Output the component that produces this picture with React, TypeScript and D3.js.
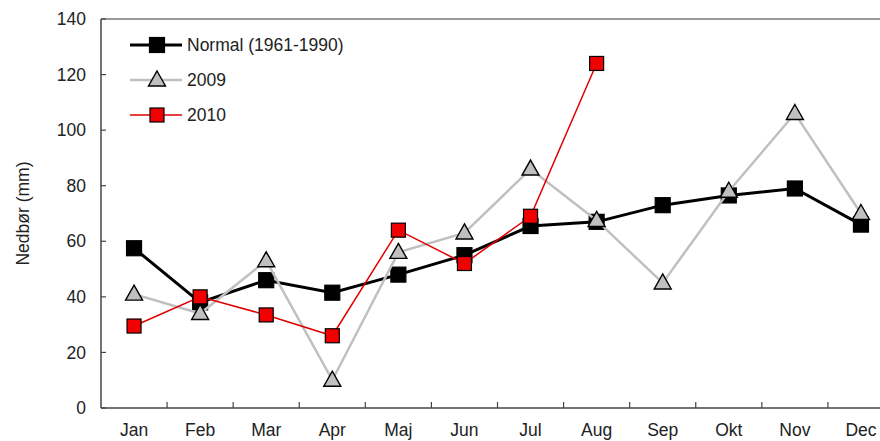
import React from "react";
import * as d3 from "d3";

const months = ["Jan", "Feb", "Mar", "Apr", "Maj", "Jun", "Jul", "Aug", "Sep", "Okt", "Nov", "Dec"];
const normal = [57.5, 38, 46, 41.5, 48, 55, 65.5, 67, 73, 76.5, 79, 66];
const y2009 = [41, 34, 53, 10, 56, 63, 86, 67.5, 45, 78, 106, 70];
const y2010 = [29.5, 40, 33.5, 26, 64, 52, 69, 124];
const yTicks = [0, 20, 40, 60, 80, 100, 120, 140];
const seriesNames = ["Normal (1961-1990)", "2009", "2010"];

const W = 880;
const H = 441;
const left = 101;
const top = 19;
const bottom = 408;
const right = 894;

export default function App() {
  const x = d3.scaleBand<string>().domain(months).range([left, right]);
  const y = d3.scaleLinear().domain([0, 140]).range([bottom, top]);
  const cx = (m: string) => (x(m) as number) + x.bandwidth() / 2;

  const line = d3
    .line<number>()
    .x((_, i) => cx(months[i]))
    .y((d) => y(d));

  const font = "'Liberation Sans', Arial, sans-serif";
  const fs = 17.5;
  const axisColor = "#444";

  const square = (px: number, py: number, s: number, fill: string, key: string) => (
    <rect key={key} x={px - s / 2} y={py - s / 2} width={s} height={s} fill={fill} stroke="#000" strokeWidth={1.2} />
  );
  const tri = (px: number, py: number, key: string) => {
    const w = 17;
    const h = 15;
    const p = `M${px},${py - h * 0.6} L${px + w / 2},${py + h * 0.4} L${px - w / 2},${py + h * 0.4} Z`;
    return <path key={key} d={p} fill="#c0c0c0" stroke="#000" strokeWidth={1.4} />;
  };

  return (
    <svg width={W} height={H} style={{ position: "absolute", left: 0, top: 0, background: "#fff" }}>
      {/* plot frame */}
      <line x1={left} x2={W} y1={top} y2={top} stroke="#777" strokeWidth={1.5} />
      <line x1={left} x2={left} y1={top} y2={bottom} stroke={axisColor} strokeWidth={1.5} />
      <line x1={left} x2={W} y1={bottom} y2={bottom} stroke={axisColor} strokeWidth={1.5} />
      {/* y ticks */}
      {yTicks.map((t) => (
        <g key={"yt" + t}>
          <line x1={left} x2={left + 5} y1={y(t)} y2={y(t)} stroke={axisColor} strokeWidth={1.2} />
          <text x={86} y={y(t)} dy="0.35em" textAnchor="end" fontFamily={font} fontSize={fs} fill="#222">
            {t}
          </text>
        </g>
      ))}
      {/* x ticks */}
      {months.map((m, i) =>
        i > 0 ? (
          <line key={"xt" + m} x1={x(m) as number} x2={x(m) as number} y1={bottom} y2={bottom - 6} stroke={axisColor} strokeWidth={1.2} />
        ) : null
      )}
      {months.map((m) => (
        <text key={"xl" + m} x={cx(m)} y={436} textAnchor="middle" fontFamily={font} fontSize={fs} fill="#222">
          {m}
        </text>
      ))}
      <text
        transform={`translate(29,${(top + bottom) / 2}) rotate(-90)`}
        textAnchor="middle"
        fontFamily={font}
        fontSize={fs}
        fill="#222"
      >
        Nedbør (mm)
      </text>

      {/* Normal */}
      <path d={line(normal) as string} fill="none" stroke="#000" strokeWidth={3} />
      {normal.map((v, i) => square(cx(months[i]), y(v), 15, "#000", "n" + i))}
      {/* 2009 */}
      <path d={line(y2009) as string} fill="none" stroke="#c0c0c0" strokeWidth={2.5} />
      {y2009.map((v, i) => tri(cx(months[i]), y(v), "a" + i))}
      {/* 2010 */}
      <path d={line(y2010) as string} fill="none" stroke="#e00000" strokeWidth={1.5} />
      {y2010.map((v, i) => square(cx(months[i]), y(v), 14, "#f00000", "b" + i))}

      {/* legend */}
      <g>
        <line x1={130} x2={182} y1={45} y2={45} stroke="#000" strokeWidth={3} />
        {square(157, 45, 15, "#000", "l1")}
        <text x={187} y={45} dy="0.35em" fontFamily={font} fontSize={fs} fill="#222">
          {seriesNames[0]}
        </text>
        <line x1={130} x2={182} y1={80} y2={80} stroke="#c0c0c0" strokeWidth={2.5} />
        {tri(157, 80, "l2")}
        <text x={187} y={80} dy="0.35em" fontFamily={font} fontSize={fs} fill="#222">
          {seriesNames[1]}
        </text>
        <line x1={130} x2={182} y1={115} y2={115} stroke="#e00000" strokeWidth={1.5} />
        {square(157, 115, 14, "#f00000", "l3")}
        <text x={187} y={115} dy="0.35em" fontFamily={font} fontSize={fs} fill="#222">
          {seriesNames[2]}
        </text>
      </g>
    </svg>
  );
}
